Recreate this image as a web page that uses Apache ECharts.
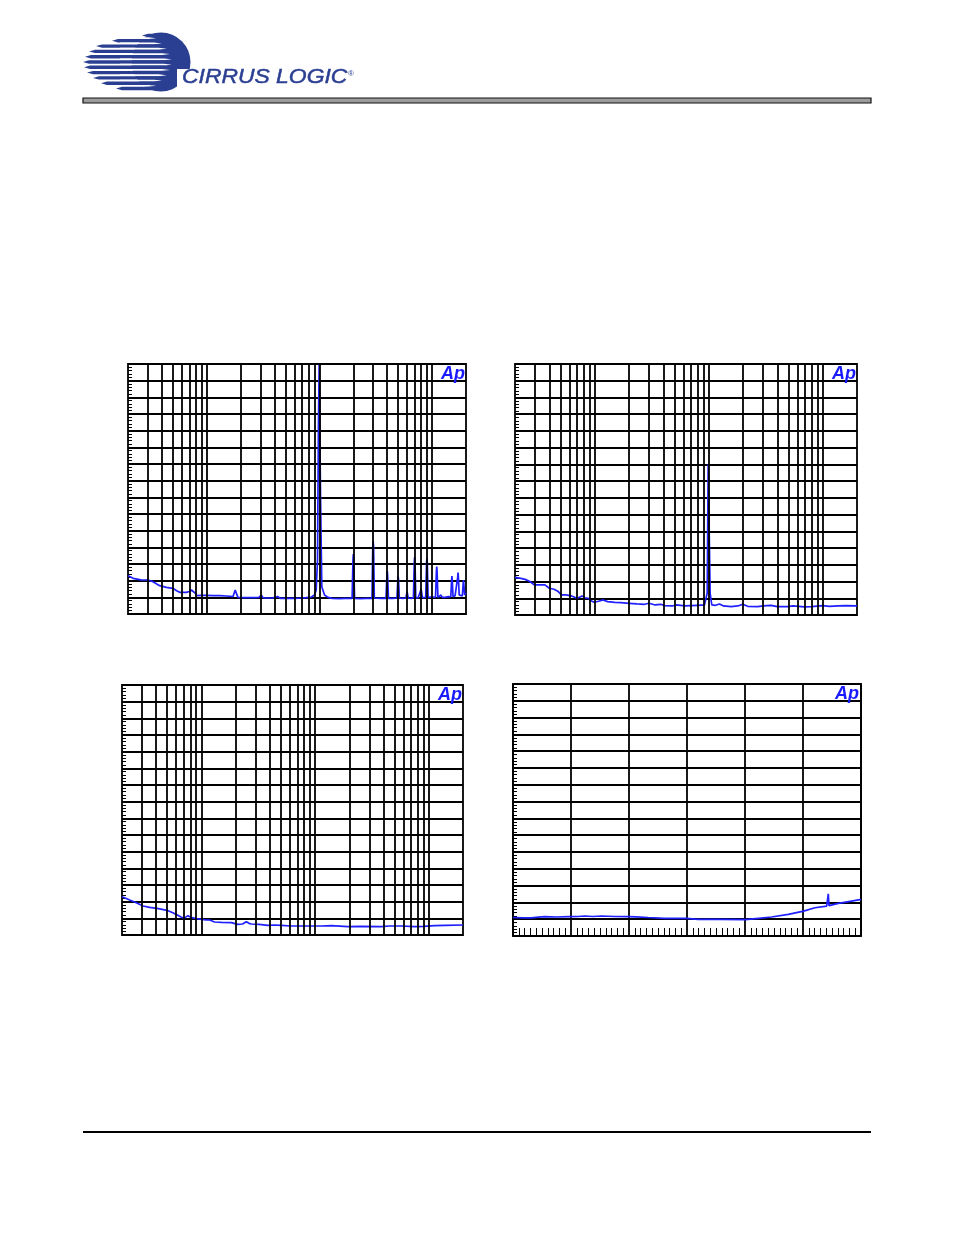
<!DOCTYPE html>
<html><head><meta charset="utf-8">
<script src="https://cdn.jsdelivr.net/npm/echarts@6/dist/echarts.min.js"></script>
<style>html,body{margin:0;padding:0;background:#fff}#c{width:954px;height:1235px}</style>
</head><body><div id="c"></div><script>
// ---- data ----
const logGridFreqs = [30,40,50,60,70,80,90,100,200,300,400,500,600,700,800,900,1000,2000,3000,4000,5000,6000,7000,8000,9000,10000];
const fftFreqMin = 20, fftFreqMax = 20000;
const dbMin = -150, dbMax = 0, dbStep = 10;
const linFreqMax = 48000, linFreqStep = 8000;

const fftMinus1dB = [[20,-127],[22.2,-128.6],[26,-129.5],[30.1,-129.6],[33.3,-130.6],[36,-132],[38.2,-133],[43.8,-134],[50.1,-134.6],[54,-136],[57.5,-137],[62,-137],[65.9,-137],[70,-136.5],[73,-135.6],[76,-135.6],[79,-137.5],[81.8,-139],[90,-138.8],[99,-138.8],[115,-139],[130,-139],[150,-139.2],[171,-139.6],[176,-137],[179,-135.6],[183,-137.5],[189,-140],[220,-140.2],[257,-140.2],[290,-140],[305,-138.6],[315,-140.2],[337,-140.4],[380,-140.4],[428,-139.6],[450,-140.6],[507,-140.6],[600,-140.6],[700,-140.4],[764,-140.2],[850,-139.8],[904,-138.6],[936,-135.6],[962,-117.6],[980,-37.6],[995,-0.5],[1005,-0.5],[1022,-77.6],[1050,-133.6],[1110,-138.6],[1190,-140],[1300,-140.6],[1500,-140.8],[1700,-140.6],[1950,-140.6],[1985,-118],[2000,-114],[2015,-118],[2050,-140.6],[2300,-140.8],[2600,-140.6],[2930,-140.6],[2975,-110],[3000,-106.2],[3025,-110],[3070,-140.4],[3500,-140.6],[3900,-140.6],[3970,-127],[4000,-124.2],[4030,-127],[4100,-140.6],[4500,-140.6],[4880,-140.4],[4960,-130],[5000,-127.6],[5040,-130],[5120,-140.4],[5500,-140.6],[5860,-140.4],[6000,-136.6],[6140,-140.4],[6500,-140.6],[6830,-140.2],[6950,-119],[7000,-116],[7050,-119],[7170,-140.4],[7500,-140.4],[7800,-140],[8000,-135.2],[8200,-140.2],[8500,-140.4],[8780,-140],[8940,-119],[9000,-116.6],[9060,-119],[9220,-140],[9600,-140.2],[10000,-139.8],[10730,-140],[10930,-124],[11000,-121.6],[11070,-124],[11270,-140],[11720,-139.8],[12000,-138.6],[12280,-140],[13000,-140],[14000,-139.6],[14650,-139.8],[14900,-130],[15000,-127.2],[15100,-130],[15350,-139.6],[16000,-139],[16600,-139.4],[16880,-128],[17000,-125.2],[17120,-128],[17400,-138.5],[18000,-137.6],[18550,-139.2],[18870,-132],[19000,-129.6],[19130,-132],[19450,-138.6],[20000,-137.6]];

const fftMinus60dB = [[20,-127.5],[22,-128],[24.5,-128.7],[27,-130],[29.5,-132],[33,-132],[36.6,-132],[40,-134],[44,-134.6],[47.9,-136],[51.2,-138],[56,-138],[62.6,-138.6],[66,-139.2],[69.3,-140],[73,-139.5],[77.6,-138.6],[82,-139.8],[87.6,-140],[93,-141.5],[98.9,-142.4],[108,-141.8],[118.6,-141],[130,-142],[150,-142.4],[170,-142.6],[200,-143],[235,-143.4],[274,-143.6],[300,-143],[340,-144],[380,-143.6],[410,-144.4],[480,-144.6],[520,-144],[614,-144.6],[700,-144.4],[800,-144.2],[918,-144],[970,-137],[990,-60],[1010,-60],[1030,-137],[1065,-144],[1150,-144.2],[1244,-143.4],[1350,-144.6],[1572,-145],[1800,-144.6],[1990,-143.6],[2200,-144.8],[2690,-145],[3000,-144.6],[3520,-144.2],[4000,-145],[4920,-145],[5500,-144.6],[6890,-145.2],[8000,-145],[9972,-144.4],[11500,-144.8],[13490,-144.6],[16000,-144.4],[20000,-144.6]];

const fftNoInput = [[20,-127],[23.4,-129],[27,-130.8],[30.6,-132.6],[35,-133.4],[40.6,-134],[45,-134.6],[50.8,-135.4],[56,-136.6],[61.3,-138],[66,-139.2],[70.2,-140],[73,-138.8],[76.1,-138.4],[79,-139.6],[82,-139.6],[90,-140.2],[101,-140.6],[110,-141],[118,-141],[130.6,-142.2],[150,-142.4],[183,-142.6],[209,-143.6],[230,-143.4],[248,-142],[262,-143],[275,-143.4],[320,-143.6],[385,-144.2],[440,-144],[504,-144.2],[617,-144.6],[800,-144.6],[1133,-144.6],[1400,-144.4],[1944,-145],[2500,-144.8],[3820,-145],[4500,-144.6],[5730,-144.6],[7500,-145],[9000,-144.8],[11250,-144.4],[14000,-144.2],[20000,-144]];

const fftLinear = [[0,-139],[1500,-139.2],[2531,-139.2],[3500,-138.8],[4372,-138.5],[6000,-138.7],[7732,-138.5],[9000,-138.4],[9894,-138.1],[11000,-138.4],[12196,-138.1],[14000,-138.4],[15877,-138.5],[17000,-138.6],[18638,-139],[20939,-139.5],[23931,-139.5],[25542,-140.1],[28763,-140.1],[32031,-140.3],[33825,-139.5],[35666,-138.7],[37967,-137.1],[40084,-135.2],[41649,-133.2],[43260,-132.2],[43398,-131.9],[43490,-124.9],[43582,-131.9],[43720,-131.4],[44870,-130.6],[46711,-129.2],[48000,-128.2]];

// ---- styles ----
const TRACE = '#1f1fff';
const LOGO = '#2b3f92';
const GRIDW = 1.8;
const grids = [
  {left:128, top:364, width:338, height:250},
  {left:515, top:364, width:342, height:251},
  {left:122, top:685, width:341, height:250},
  {left:513, top:684, width:348, height:252}
].map(g => Object.assign(g, {show:true, borderColor:'#000', borderWidth:GRIDW, backgroundColor:'transparent'}));

function yAx(i){
  return {gridIndex:i, type:'value', min:dbMin, max:dbMax, interval:dbStep,
    axisLine:{show:false, onZero:false}, axisTick:{show:false, inside:true}, axisLabel:{show:false},
    splitLine:{show:true, lineStyle:{color:'#000', width:GRIDW}},
    minorTick:{show:true, splitNumber:5, length:4, lineStyle:{color:'#000', width:1}}};
}
function logX(i){
  return {gridIndex:i, type:'log', logBase:10, min:fftFreqMin, max:fftFreqMax, position:'bottom',
    axisLine:{show:false, onZero:false}, axisTick:{show:false}, axisLabel:{show:false}, splitLine:{show:false}};
}
function gridSeries(i){
  return {type:'line', xAxisIndex:i, yAxisIndex:i, data:[[fftFreqMin,dbMin]], showSymbol:false,
    lineStyle:{width:0}, z:1, silent:true,
    markLine:{silent:true, symbol:['none','none'], label:{show:false}, animation:false,
      lineStyle:{color:'#000', width:GRIDW, type:'solid'},
      emphasis:{disabled:true},
      data: logGridFreqs.map(f => ({xAxis:f}))}};
}
function trace(i, d){
  return {type:'line', xAxisIndex:i, yAxisIndex:i, data:d, showSymbol:false, z:3,
    lineStyle:{color:TRACE, width:1.7}, silent:true, clip:true};
}

// logo graphic
const logoEls = [];
logoEls.push({type:'circle', shape:{cx:161, cy:62, r:29.5}, style:{fill:LOGO}});
const rows = [[35.5,142],[40.8,112],[46.1,96],[51.4,89],[56.7,85],[62,83],[67.3,84],[72.6,87],[77.9,93],[83.2,101],[88.5,116]];
rows.forEach((r,k) => {
  const y = r[0], x0 = r[1];
  logoEls.push({type:'polygon', shape:{points:[[x0,y],[x0+6,y-1.7],[165,y-1.7],[165,y+1.7],[x0+6,y+1.7]]}, style:{fill:LOGO}});
  if (k < rows.length-1) {
    const gy = y + 2.65;
    const gEnd = 150 + 22*Math.sin(Math.PI*(k+1)/rows.length);
    logoEls.push({type:'polygon', shape:{points:[[120,gy-0.9],[gEnd-8,gy-0.9],[gEnd,gy],[gEnd-8,gy+0.9],[120,gy+0.9]]}, style:{fill:'#fff'}});
  }
});
logoEls.push({type:'rect', shape:{x:177, y:69, width:20, height:26}, style:{fill:'#fff'}});
logoEls.push({type:'text', x:182, y:88, scaleX:1.09, z:5, style:{text:'CIRRUS LOGIC', font:'italic 21px "Liberation Sans"', fill:LOGO, stroke:LOGO, lineWidth:0.5, textVerticalAlign:'bottom'}});
logoEls.push({type:'text', x:348, y:70, z:6, style:{text:'®', font:'8px "Liberation Sans"', fill:LOGO}});

const apPos = [[466,365],[857,365],[463,686],[860,685]];
const apEls = apPos.map(p => ({type:'text', x:p[0]-1, y:p[1], style:{text:'Ap', font:'italic bold 18px "Liberation Sans"', fill:'#1a1aff', textAlign:'right', textVerticalAlign:'top'}, z:10}));

const chart = echarts.init(document.getElementById('c'), null, {renderer:'canvas', width:954, height:1235});
chart.setOption({
  animation:false,
  backgroundColor:'#fff',
  grid: grids,
  xAxis: [logX(0), logX(1), logX(2),
    {gridIndex:3, type:'value', min:0, max:linFreqMax, interval:linFreqStep, position:'bottom',
      axisLine:{show:false, onZero:false}, axisTick:{show:false, inside:true}, axisLabel:{show:false},
      splitLine:{show:true, lineStyle:{color:'#000', width:GRIDW}},
      minorTick:{show:true, splitNumber:10, length:8, lineStyle:{color:'#000', width:1}}}],
  yAxis: [yAx(0), yAx(1), yAx(2), yAx(3)],
  series: [gridSeries(0), gridSeries(1), gridSeries(2),
    trace(0, fftMinus1dB), trace(1, fftMinus60dB), trace(2, fftNoInput), trace(3, fftLinear)],
  graphic: [].concat(
    logoEls,
    [{type:'rect', shape:{x:83, y:98, width:788, height:5}, style:{fill:'#9c9c9c', stroke:'#111', lineWidth:1.2}},
     {type:'line', shape:{x1:83, y1:1132, x2:871, y2:1132}, style:{stroke:'#000', lineWidth:2}}],
    apEls)
});
</script></body></html>
